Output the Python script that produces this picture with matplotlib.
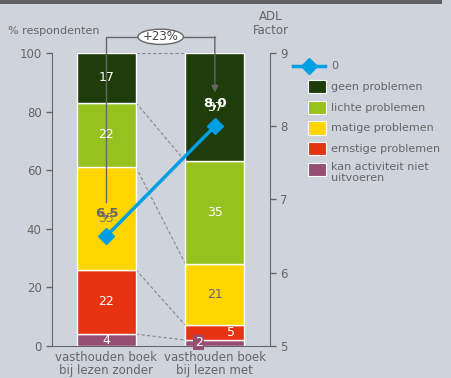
import matplotlib.pyplot as plt
import numpy as np
from matplotlib.patches import Rectangle, Ellipse
from matplotlib.lines import Line2D

# percentages per category, bottom to top
groups = ['vasthouden boek\nbij lezen zonder', 'vasthouden boek\nbij lezen met']
categories = ['kan activiteit niet\nuitvoeren', 'ernstige problemen', 'matige problemen',
              'lichte problemen', 'geen problemen']
zonder = [4, 22, 35, 22, 17]
met = [2, 5, 21, 35, 37]
adl = [6.5, 8.0]
adl_labels = ['6,5', '8,0']
change_label = '+23%'

colors = ['#964f72', '#e63312', '#ffd500', '#97c11f', '#1e3d0a']
label_colors = [['white', 'white', '#777777', 'white', 'white'],
                ['white', 'white', '#666666', 'white', 'white']]
bg = '#cfd3dc'
grey = '#666666'

fig = plt.figure(figsize=(4.52, 3.78), dpi=100, facecolor=bg)
ax = fig.add_axes([0.115, 0.085, 0.482, 0.775])
ax.set_facecolor(bg)
ax2 = ax.twinx()

x = np.arange(len(groups))
width = 0.544
values = np.array([zonder, met])
bottoms = np.cumsum(values, axis=1) - values

for i in range(len(groups)):
    for j in range(len(categories)):
        ax.bar(x[i], values[i, j], width, bottom=bottoms[i, j], color=colors[j],
               edgecolor='white', linewidth=1, zorder=2)

# segment values
for i in range(len(groups)):
    for j in range(len(categories)):
        v = values[i, j]
        yc = bottoms[i, j] + v / 2
        if i == 1 and j == 1:
            ax.text(x[i] + 0.15, yc, str(v), color='white', ha='center', va='center',
                    fontsize=9, zorder=4)
        elif i == 1 and j == 0:
            ax.text(x[i] - 0.15, yc + 0.2, str(v), color='white', ha='center', va='center',
                    fontsize=9, zorder=4,
                    bbox=dict(boxstyle='square,pad=0.1', fc=colors[0], ec='none'))
        else:
            ax.text(x[i], yc, str(v), color=label_colors[i][j], ha='center', va='center',
                    fontsize=9, zorder=4)

# dashed connectors between segment borders
tops = np.cumsum(values, axis=1)
for j in range(len(categories)):
    ax.plot([x[0] + width / 2, x[1] - width / 2], [tops[0, j], tops[1, j]],
            color='#888888', lw=0.8, ls=(0, (3, 2)), zorder=1)

ax.set_xlim(-0.502, 1.507)
ax.set_ylim(0, 100)
ax.set_yticks([0, 20, 40, 60, 80, 100])
ax.set_xticks(x)
ax.set_xticklabels(groups, color=grey, fontsize=8.5, linespacing=1.0)
ax.tick_params(axis='x', length=0, pad=4)
ax.tick_params(axis='y', colors=grey, labelsize=8.5, length=4, width=1, direction='out')
for s in ['top', 'right']:
    ax.spines[s].set_visible(False)
ax.spines['left'].set_color(grey)
ax.spines['bottom'].set_color(grey)

# ADL factor line
ax2.set_ylim(5, 9)
ax2.set_yticks([5, 6, 7, 8, 9])
ax2.tick_params(axis='y', colors=grey, labelsize=8.5, length=4, width=1, direction='out')
for s in ['top', 'left', 'bottom']:
    ax2.spines[s].set_visible(False)
ax2.spines['right'].set_color(grey)
ax2.plot(x, adl, color='#009fe3', lw=2.5, marker='D', markersize=8, zorder=5)
for i in range(len(groups)):
    ax2.annotate(adl_labels[i], (x[i], adl[i]), xytext=(0, 16.5), textcoords='offset points',
                 ha='center', va='center', fontsize=9.5, fontweight='bold',
                 color=grey if i == 0 else 'white', zorder=6)

# change bracket with arrow
ax.plot([x[0], x[0], x[1]], [49, 105.5, 105.5], color=grey, lw=1, clip_on=False, zorder=3)
ax.annotate('', xy=(x[1], 86.5), xytext=(x[1], 105.5),
            arrowprops=dict(arrowstyle='-|>', color=grey, lw=1, mutation_scale=10,
                            shrinkA=0, shrinkB=0), annotation_clip=False, zorder=3)
ax.add_patch(Ellipse((0.5, 105.5), 0.42, 5.2, fc='white', ec=grey, lw=1,
                     clip_on=False, zorder=4))
ax.text(0.5, 105.5, change_label, ha='center', va='center', fontsize=8.5,
        color='#444444', zorder=5, clip_on=False)

# axis titles
fig.text(0.018, 0.918, '% respondenten', color=grey, fontsize=8, ha='left', va='center')
fig.text(0.6, 0.938, 'ADL\nFactor', color=grey, fontsize=8.5, ha='center', va='center',
         linespacing=1.05)

# legend
fig.add_artist(Line2D([0.648, 0.718], [0.825, 0.825], color='#009fe3', lw=2.5,
                      transform=fig.transFigure))
fig.add_artist(Line2D([0.683], [0.825], color='#009fe3', marker='D', markersize=8,
                      lw=0, transform=fig.transFigure))
fig.text(0.732, 0.825, '0', color=grey, fontsize=8, va='center')
leg_y = [0.77, 0.715, 0.661, 0.606, 0.551]
for k, j in enumerate(range(len(categories) - 1, -1, -1)):
    fig.add_artist(Rectangle((0.682, leg_y[k] - 0.017), 0.039, 0.036, fc=colors[j],
                             ec='white', lw=0.8, transform=fig.transFigure))
    if j == 0:
        fig.text(0.732, leg_y[k] + 0.021, categories[j], color=grey, fontsize=8,
                 va='top', linespacing=1.1)
    else:
        fig.text(0.732, leg_y[k], categories[j], color=grey, fontsize=8, va='center')

# top frame bar
fig.add_artist(Rectangle((0, 0.99), 0.978, 0.012, fc='#5f5f66', ec='none',
                         transform=fig.transFigure))

fig.savefig('out.png', dpi=100, facecolor=bg)
